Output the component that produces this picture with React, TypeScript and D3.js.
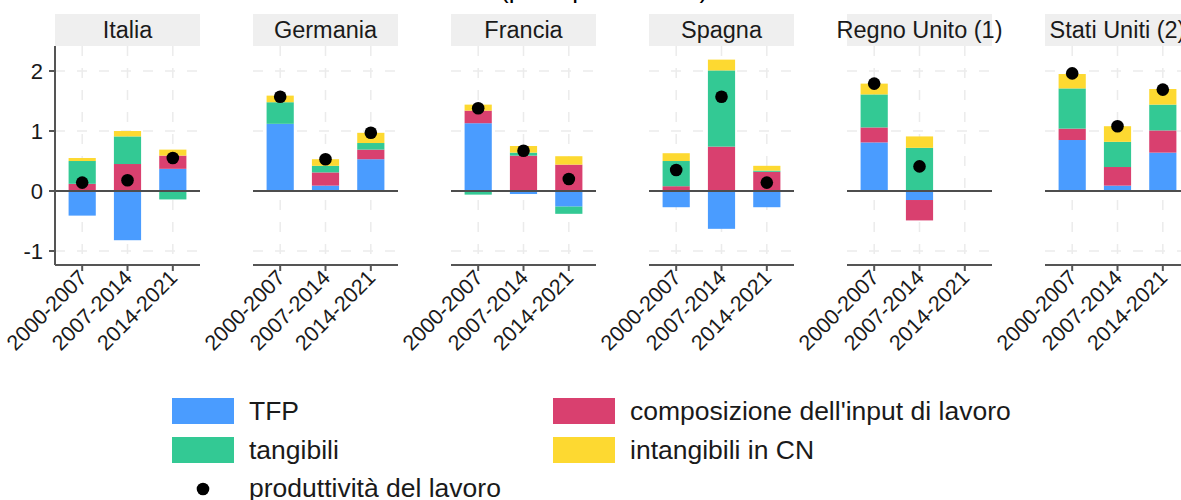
import React from "react";
import * as d3 from "d3";

const periods = ["2000-2007", "2007-2014", "2014-2021"];
const countries = ["Italia", "Germania", "Francia", "Spagna", "Regno Unito (1)", "Stati Uniti (2)"];
const seriesNames = ["TFP", "composizione dell'input di lavoro", "tangibili", "intangibili in CN"];
const tfp = [[-0.41, -0.82, 0.37], [1.12, 0.09, 0.53], [1.13, -0.05, -0.26], [-0.27, -0.63, -0.27], [0.81, -0.15, null], [0.85, 0.09, 0.64]];
const comp = [[0.12, 0.45, 0.22], [0.0, 0.22, 0.16], [0.21, 0.59, 0.44], [0.08, 0.74, 0.32], [0.25, -0.34, null], [0.19, 0.31, 0.37]];
const tang = [[0.38, 0.46, -0.14], [0.36, 0.11, 0.11], [-0.06, 0.05, -0.12], [0.42, 1.27, 0.02], [0.55, 0.72, null], [0.67, 0.42, 0.43]];
const intang = [[0.05, 0.09, 0.1], [0.11, 0.11, 0.17], [0.1, 0.11, 0.14], [0.13, 0.18, 0.08], [0.18, 0.19, null], [0.24, 0.26, 0.26]];
const prod = [[0.14, 0.18, 0.55], [1.57, 0.53, 0.97], [1.38, 0.67, 0.2], [0.35, 1.57, 0.14], [1.79, 0.41, null], [1.96, 1.08, 1.69]];
const yTicks = [-1, 0, 1, 2];
const colors = ["#4a9cff", "#d9406f", "#33c994", "#fdd931"];
const title = "(punti percentuali)";

const FONT = "'Liberation Sans', Arial, Helvetica, sans-serif";

export default function App() {
  const W = 1181, H = 500;
  const panelW = 145, panelStep = 198, panelX0 = 55;
  const top = 46, bottom = 265;
  const y = d3.scaleLinear().domain([-1.233, 2.417]).range([bottom, top]);
  const x = d3.scalePoint<string>().domain(periods).range([0, panelW]).padding(0.6);
  const barW = x.step() * 0.6;
  const keys = ["tfp", "comp", "tang", "intang"];
  const allSeries = [tfp, comp, tang, intang];

  const panels = countries.map((c, ci) => {
    const px = panelX0 + ci * panelStep;
    const rows = periods.map((p, pi) => {
      const r: any = { period: p, valid: tfp[ci][pi] !== null };
      keys.forEach((k, ki) => (r[k] = allSeries[ki][ci][pi] ?? 0));
      return r;
    });
    const stacked = d3.stack().keys(keys).offset(d3.stackOffsetDiverging)(rows as any);
    return { c, ci, px, rows, stacked };
  });

  return (
    <svg width={W} height={H} style={{ position: "absolute", left: 0, top: 0, background: "#fff", fontFamily: FONT }}>
      <text x={500} y={-2} fontSize={26} fill="#000">{title}</text>
      {panels.map(({ c, ci, px, rows, stacked }) => (
        <g key={c} transform={`translate(${px},0)`}>
          <rect x={0} y={14} width={panelW} height={32} fill="#efefef" />
          <text x={panelW / 2} y={38} textAnchor="middle" fontSize={23.5} fill="#1a1a1a">{c}</text>
          {yTicks.map((t) => (
            <line key={"h" + t} x1={0} x2={panelW} y1={y(t)} y2={y(t)} stroke="#ebebeb" strokeWidth={1.5} strokeDasharray="10,12" />
          ))}
          {periods.map((p) => (
            <line key={"v" + p} x1={x(p)} x2={x(p)} y1={top} y2={bottom} stroke="#ebebeb" strokeWidth={1.5} strokeDasharray="10,12" />
          ))}
          {stacked.map((s, si) => (
            <g key={s.key} fill={colors[si]}>
              {s.map((d, i) =>
                rows[i].valid && d[1] !== d[0] ? (
                  <rect key={i} x={(x(periods[i]) as number) - barW / 2} width={barW} y={y(Math.max(d[0], d[1]))} height={Math.abs(y(d[0]) - y(d[1]))} />
                ) : null
              )}
            </g>
          ))}
          <line x1={0} x2={panelW} y1={y(0)} y2={y(0)} stroke="#4d4d4d" strokeWidth={2} />
          {periods.map((p, i) =>
            prod[ci][i] !== null ? <circle key={"d" + p} cx={x(p)} cy={y(prod[ci][i] as number)} r={6.3} fill="#000" /> : null
          )}
          <line x1={0} x2={panelW} y1={bottom} y2={bottom} stroke="#555" strokeWidth={2} />
          {periods.map((p) => (
            <g key={"t" + p}>
              <line x1={x(p)} x2={x(p)} y1={bottom} y2={bottom + 6} stroke="#555" strokeWidth={2} />
              <text transform={`translate(${(x(p) as number) + 6},${bottom + 14}) rotate(-45)`} textAnchor="end" fontSize={21.5} fill="#1a1a1a">{p}</text>
            </g>
          ))}
          {ci === 0 && (
            <g>
              <line x1={0} x2={0} y1={top} y2={bottom} stroke="#555" strokeWidth={2} />
              {yTicks.map((t) => (
                <g key={"yt" + t}>
                  <line x1={-6} x2={0} y1={y(t)} y2={y(t)} stroke="#555" strokeWidth={2} />
                  <text x={-12} y={y(t)} dy="0.36em" textAnchor="end" fontSize={22} fill="#1a1a1a">{t}</text>
                </g>
              ))}
            </g>
          )}
        </g>
      ))}
      <g>
        {[0, 2, 1, 3].map((si, j) => {
          const col = j < 2 ? 0 : 1;
          const row = j % 2;
          const bx = col === 0 ? 172 : 553;
          const cy = 411 + row * 39;
          return (
            <g key={si}>
              <rect x={bx} y={cy - 13} width={62} height={26} fill={colors[si]} />
              <text x={bx + 77} y={cy + 9} fontSize={26.5} fill="#1a1a1a">{seriesNames[si]}</text>
            </g>
          );
        })}
        <circle cx={203} cy={489} r={6.3} fill="#000" />
        <text x={249} y={497} fontSize={26.5} fill="#1a1a1a">produttività del lavoro</text>
      </g>
    </svg>
  );
}
